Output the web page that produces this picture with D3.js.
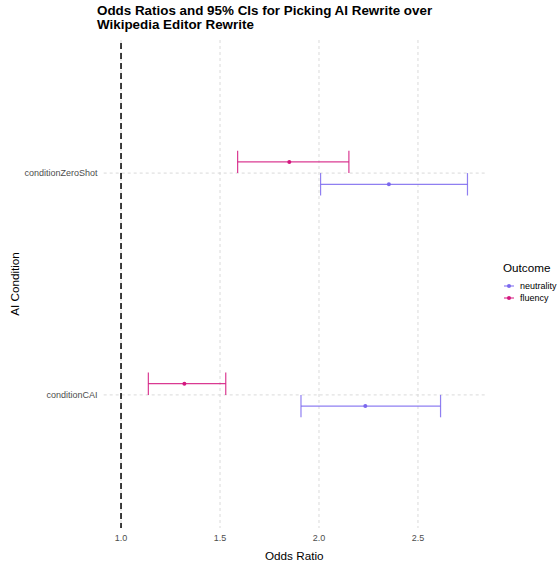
<!DOCTYPE html>
<html><head><meta charset="utf-8">
<script src="https://cdn.jsdelivr.net/npm/d3@7"></script>
<style>body{margin:0;background:#fff;} text{font-family:"Liberation Sans",Arial,sans-serif;}</style>
</head><body>
<svg id="c" width="559" height="567"></svg>
<script>
const conditions = ["conditionCAI", "conditionZeroShot"];
const outcomes = ["neutrality", "fluency"];
const estimate = { neutrality: [2.234, 2.353], fluency: [1.32, 1.85] };
const lower    = { neutrality: [1.909, 2.008], fluency: [1.138, 1.589] };
const upper    = { neutrality: [2.614, 2.750], fluency: [1.529, 2.151] };
const xTicks = [1.0, 1.5, 2.0, 2.5];
const colors = { neutrality: "#7b68ee", fluency: "#d4177f" };

const svg = d3.select("#c");
const L = 103.7, R = 484.8, T = 40, B = 528;
const x = d3.scaleLinear().domain([0.9125, 2.8375]).range([L, R]);
const y = d3.scalePoint().domain(conditions).range([B, T]).padding(0.6);
const dodge = { fluency: -11.2, neutrality: 11.2 };
const capHalf = 11.2;

// grid
svg.append("g").selectAll("line").data(xTicks).join("line")
  .attr("x1", d => x(d)).attr("x2", d => x(d)).attr("y1", T).attr("y2", B)
  .attr("stroke", "#dadada").attr("stroke-width", 1).attr("stroke-dasharray", "3,3");
svg.append("g").selectAll("line").data(conditions).join("line")
  .attr("x1", L).attr("x2", R).attr("y1", d => y(d)).attr("y2", d => y(d))
  .attr("stroke", "#dadada").attr("stroke-width", 1).attr("stroke-dasharray", "3,3");

// vline at 1
svg.append("line").attr("x1", x(1)).attr("x2", x(1)).attr("y1", T + 3).attr("y2", B)
  .attr("stroke", "#000").attr("stroke-width", 1.5).attr("stroke-dasharray", "6,4");

// error bars
const rows = [];
outcomes.forEach(o => conditions.forEach((c, i) => rows.push({
  o, c, est: estimate[o][i], lo: lower[o][i], hi: upper[o][i]
})));
const g = svg.append("g");
rows.forEach(r => {
  const yy = y(r.c) + dodge[r.o];
  const col = colors[r.o];
  const eg = g.append("g").attr("stroke", col).attr("stroke-width", 1.2).attr("stroke-opacity", 0.85);
  eg.append("line").attr("x1", x(r.lo)).attr("x2", x(r.hi)).attr("y1", yy).attr("y2", yy);
  eg.append("line").attr("x1", x(r.lo)).attr("x2", x(r.lo)).attr("y1", yy - capHalf).attr("y2", yy + capHalf);
  eg.append("line").attr("x1", x(r.hi)).attr("x2", x(r.hi)).attr("y1", yy - capHalf).attr("y2", yy + capHalf);
  g.append("circle").attr("cx", x(r.est)).attr("cy", yy).attr("r", 2).attr("fill", col);
});

// axis labels
svg.append("g").selectAll("text").data(xTicks).join("text")
  .attr("x", d => x(d)).attr("y", 541).attr("text-anchor", "middle")
  .attr("font-size", 9).attr("fill", "#4d4d4d").text(d => d.toFixed(1));
svg.append("g").selectAll("text").data(conditions).join("text")
  .attr("x", 97.5).attr("y", d => y(d) + 3.2).attr("text-anchor", "end")
  .attr("font-size", 9).attr("fill", "#4d4d4d").text(d => d);

svg.append("text").attr("x", (L + R) / 2).attr("y", 560).attr("text-anchor", "middle")
  .attr("font-size", 11.7).attr("fill", "#000").text("Odds Ratio");
svg.append("text").attr("transform", `translate(19,${(T + B) / 2}) rotate(-90)`).attr("text-anchor", "middle")
  .attr("font-size", 11.7).attr("fill", "#000").text("AI Condition");

// title
const title = svg.append("text").attr("x", 97).attr("font-size", 13.4).attr("font-weight", "bold").attr("fill", "#000");
title.append("tspan").attr("x", 97).attr("y", 15).text("Odds Ratios and 95% CIs for Picking AI Rewrite over");
title.append("tspan").attr("x", 97).attr("y", 29).text("Wikipedia Editor Rewrite");

// legend
svg.append("text").attr("x", 503).attr("y", 272).attr("font-size", 11.7).attr("fill", "#000").text("Outcome");
const lg = svg.append("g").selectAll("g").data(outcomes).join("g")
  .attr("transform", (d, i) => `translate(503,${286 + i * 12})`);
lg.append("line").attr("x1", 1).attr("x2", 11).attr("stroke", d => colors[d]).attr("stroke-width", 1.2).attr("stroke-opacity", 0.85);
lg.append("circle").attr("cx", 6).attr("r", 2).attr("fill", d => colors[d]);
lg.append("text").attr("x", 17).attr("y", 3.2).attr("font-size", 9).attr("fill", "#000").text(d => d);
</script>
</body></html>
